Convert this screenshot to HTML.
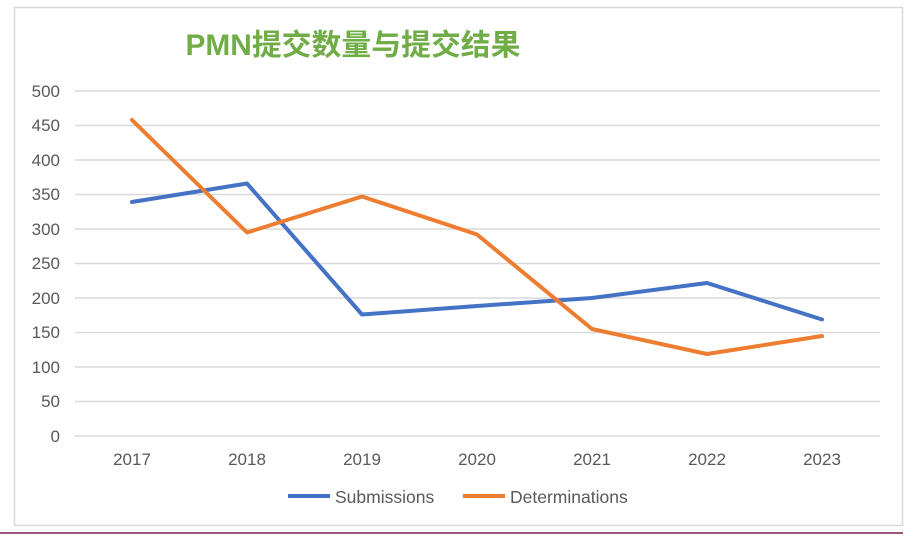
<!DOCTYPE html>
<html><head><meta charset="utf-8"><style>
body{margin:0;background:#fff;width:917px;height:541px;overflow:hidden}
svg{display:block;font-family:"Liberation Sans","Noto Sans CJK SC",sans-serif}
</style></head><body>
<svg width="917" height="541" viewBox="0 0 917 541">
<rect x="14.5" y="7.5" width="888" height="518" fill="#fff" stroke="#d9d9d9" stroke-width="1.5"/>
<line x1="0" y1="533" x2="903" y2="533" stroke="#7b2150" stroke-width="1.5"/>
<text x="353" y="55" text-anchor="middle" font-size="29.5" font-weight="bold" fill="#70ad47" textLength="335" lengthAdjust="spacingAndGlyphs">PMN提交数量与提交结果</text>
<g stroke="#d9d9d9" stroke-width="1.5">
<line x1="75" x2="880" y1="91" y2="91"/><line x1="75" x2="880" y1="125.5" y2="125.5"/>
<line x1="75" x2="880" y1="160" y2="160"/><line x1="75" x2="880" y1="194.5" y2="194.5"/>
<line x1="75" x2="880" y1="229" y2="229"/><line x1="75" x2="880" y1="263.5" y2="263.5"/>
<line x1="75" x2="880" y1="298" y2="298"/><line x1="75" x2="880" y1="332.5" y2="332.5"/>
<line x1="75" x2="880" y1="367" y2="367"/><line x1="75" x2="880" y1="401.5" y2="401.5"/>
<line x1="75" x2="880" y1="436" y2="436"/>
</g>
<g font-size="17" fill="#595959" text-anchor="end">
<text x="60" y="97">500</text><text x="60" y="131">450</text><text x="60" y="166">400</text>
<text x="60" y="200">350</text><text x="60" y="235">300</text><text x="60" y="269">250</text>
<text x="60" y="304">200</text><text x="60" y="338">150</text><text x="60" y="373">100</text>
<text x="60" y="407">50</text><text x="60" y="442">0</text>
</g>
<g font-size="17" fill="#595959" text-anchor="middle">
<text x="132" y="465">2017</text><text x="247" y="465">2018</text><text x="362" y="465">2019</text>
<text x="477" y="465">2020</text><text x="592" y="465">2021</text><text x="707" y="465">2022</text>
<text x="822" y="465">2023</text>
</g>
<polyline fill="none" stroke="#4472c4" stroke-width="4" stroke-linejoin="round" stroke-linecap="round"
points="132,202 247,183.5 362,314.5 477,306 592,298 707,283 822,319.5"/>
<polyline fill="none" stroke="#ed7d31" stroke-width="4" stroke-linejoin="round" stroke-linecap="round"
points="132,120 247,232.5 362,196.5 477,234.5 592,329 707,354 822,336"/>
<line x1="288" y1="496" x2="330" y2="496" stroke="#4472c4" stroke-width="4"/>
<text x="335" y="503" font-size="17.5" fill="#595959">Submissions</text>
<line x1="463" y1="496" x2="505" y2="496" stroke="#ed7d31" stroke-width="4"/>
<text x="510" y="503" font-size="17.5" fill="#595959">Determinations</text>
</svg>
</body></html>
